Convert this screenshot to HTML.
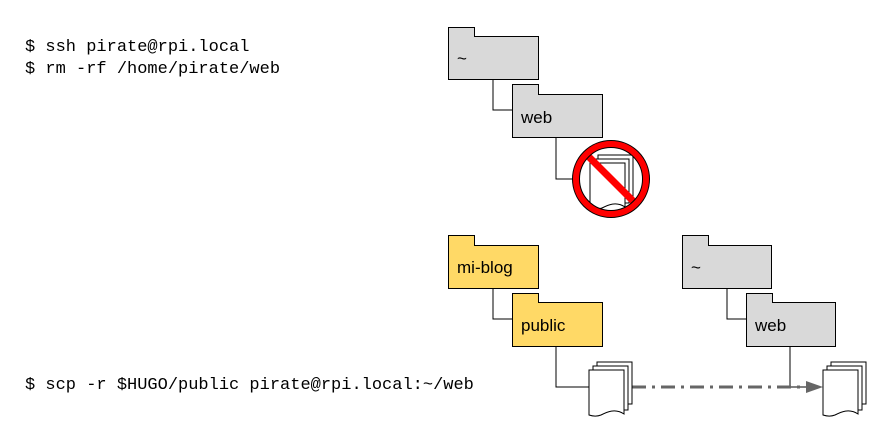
<!DOCTYPE html>
<html><head><meta charset="utf-8"><style>
html,body{margin:0;padding:0;background:#fff;width:871px;height:428px;overflow:hidden}
</style></head><body>
<svg width="871" height="428" viewBox="0 0 871 428" xmlns="http://www.w3.org/2000/svg">
<defs>
<g id="docs">
<path d="M8,-8 H43 V34 H8 Z" fill="#fff" stroke="#000" stroke-width="1"/>
<path d="M4,-4 H39 V40 H4 Z" fill="#fff" stroke="#000" stroke-width="1"/>
<path d="M0,0 H35 V44 C26,38 18,42 12,45 C7,47 3,46 0,45 Z" fill="#fff" stroke="#000" stroke-width="1"/>
</g>
</defs>
<g font-family="'Liberation Mono', monospace" font-size="17" fill="#000">
<text x="25" y="51">$ ssh pirate@rpi.local</text>
<text x="25" y="73">$ rm -rf /home/pirate/web</text>
<text x="25" y="389">$ scp -r $HUGO/public pirate@rpi.local:~/web</text>
</g>
<g stroke="#000" stroke-width="1" fill="none">
<path d="M493,79 V110 H512"/>
<path d="M556,137 V179 H574"/>
<path d="M493,288 V319 H512"/>
<path d="M556,346 V387 H589"/>
<path d="M727,288 V319 H746"/>
</g>
<g stroke="#000" stroke-width="1" font-family="'Liberation Sans', sans-serif" font-size="17">
<path d="M448.5,27.5 H474.5 V36.5 H538.5 V79.5 H448.5 Z" fill="#d9d9d9"/>
<path d="M512.5,84.5 H538.5 V94.5 H602.5 V137.5 H512.5 Z" fill="#d9d9d9"/>
<path d="M448.5,235.5 H474.5 V245.5 H538.5 V288.5 H448.5 Z" fill="#ffd966"/>
<path d="M512.5,293.5 H538.5 V302.5 H602.5 V346.5 H512.5 Z" fill="#ffd966"/>
<path d="M682.5,235.5 H708.5 V245.5 H771.5 V288.5 H682.5 Z" fill="#d9d9d9"/>
<path d="M746.5,293.5 H772.5 V302.5 H835.5 V346.5 H746.5 Z" fill="#d9d9d9"/>
</g>
<g font-family="'Liberation Sans', sans-serif" font-size="17" fill="#000">
<text x="457" y="64">~</text>
<text x="521" y="123">web</text>
<text x="457" y="273">mi-blog</text>
<text x="521" y="331">public</text>
<text x="691" y="273">~</text>
<text x="755" y="331">web</text>
</g>
<path d="M790,346 V387 H806" stroke="#000" stroke-width="1" fill="none"/>
<line x1="632" y1="387" x2="808" y2="387" stroke="#666" stroke-width="3" stroke-dasharray="14,6,3,6"/>
<path d="M806,381 L823,387 L806,393 Z" fill="#666"/>
<use href="#docs" x="589" y="370"/>
<use href="#docs" x="823" y="370"/>
<use href="#docs" x="590" y="163"/>
<circle cx="611" cy="179" r="35" fill="none" stroke="#f00" stroke-width="7"/>
<line x1="587" y1="155" x2="635" y2="203" stroke="#f00" stroke-width="7"/>
<circle cx="611" cy="179" r="38.5" fill="none" stroke="#000" stroke-width="1"/>
<circle cx="611" cy="179" r="31.5" fill="none" stroke="#000" stroke-width="1"/>
</svg>
</body></html>
